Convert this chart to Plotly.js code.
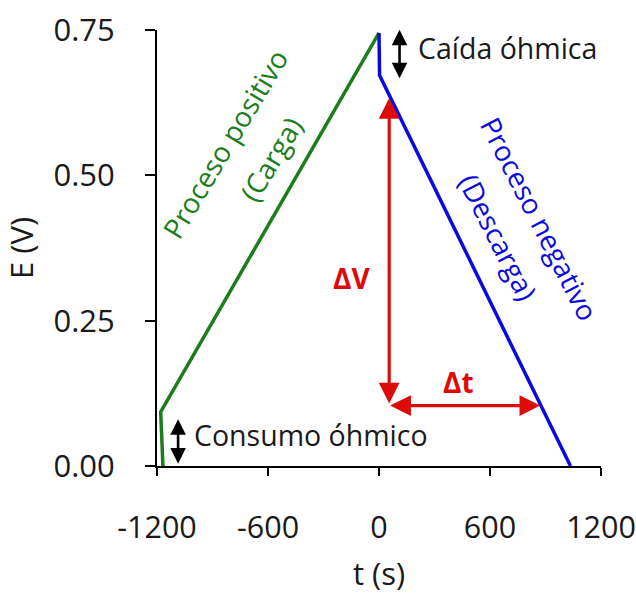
<!DOCTYPE html>
<html>
<head>
<meta charset="utf-8">
<script src="https://cdn.plot.ly/plotly-3.0.1.min.js"></script>
<style>html,body{margin:0;padding:0;background:#fff;}#chart{width:636px;height:594px;}</style>
</head>
<body>
<div id="chart"></div>
<script>
// Charge (positive process) curve
const chargeT = [-1168, -1180, 0];
const chargeE = [0, 0.093, 0.745];
// Discharge (negative process) curve
const dischargeT = [0, 3, 1035];
const dischargeE = [0.745, 0.672, 0];
// Axis ticks
const xTickVals = [-1200, -600, 0, 600, 1200];
const xTickText = ['-1200', '-600', '0', '600', '1200'];
const yTickVals = [0, 0.25, 0.5, 0.75];
const yTickText = ['0.00', '0.25', '0.50', '0.75'];
// Marker arrows
const deltaVArrow = {t: 55, e0: 0.105, e1: 0.633};
const deltaTArrow = {t0: 52, t1: 872, e: 0.104};
const dropArrow = {t: 111, e0: 0.753, e1: 0.667};
const consumeArrow = {t: -1086, e0: 0.083, e1: 0.004};

const FONT = '"Open Sans", "DejaVu Sans", sans-serif';
const GREEN = '#1b7d1b', BLUE = '#0a0ae0', RED = '#dd0a0a', INK = '#1a1a1a';

const traces = [
  {x: chargeT, y: chargeE, mode: 'lines', line: {color: GREEN, width: 3.5}, name: 'Carga', hoverinfo: 'skip'},
  {x: dischargeT, y: dischargeE, mode: 'lines', line: {color: BLUE, width: 3.5}, name: 'Descarga', hoverinfo: 'skip'}
];

function arrow(x, y, ax, ay, color, w, s) {
  return {x: x, y: y, ax: ax, ay: ay, xref: 'x', yref: 'y', axref: 'x', ayref: 'y',
    text: '', showarrow: true, arrowside: 'end+start', arrowhead: 2, arrowsize: s,
    arrowwidth: w, arrowcolor: color, standoff: 0, startstandoff: 0};
}

const annotations = [
  arrow(deltaVArrow.t, deltaVArrow.e1, deltaVArrow.t, deltaVArrow.e0, RED, 3.2, 1.3),
  arrow(deltaTArrow.t1, deltaTArrow.e, deltaTArrow.t0, deltaTArrow.e, RED, 3.2, 1.3),
  arrow(dropArrow.t, dropArrow.e1, dropArrow.t, dropArrow.e0, '#000', 2.6, 1.2),
  arrow(consumeArrow.t, consumeArrow.e1, consumeArrow.t, consumeArrow.e0, '#000', 2.6, 1.2),
  {x: 200, y: 0.719, xref: 'x', yref: 'y', text: 'Caída óhmica', showarrow: false,
   xanchor: 'left', yanchor: 'middle', font: {family: FONT, size: 28.5, color: INK}},
  {x: -1010, y: 0.0525, xref: 'x', yref: 'y', text: 'Consumo óhmico', showarrow: false,
   xanchor: 'left', yanchor: 'middle', font: {family: FONT, size: 28.5, color: INK}},
  {x: -830, y: 0.555, xref: 'x', yref: 'y', text: 'Proceso positivo', showarrow: false, textangle: -59,
   xanchor: 'center', yanchor: 'middle', font: {family: FONT, size: 28, color: GREEN}},
  {x: -585, y: 0.528, xref: 'x', yref: 'y', text: '(Carga)', showarrow: false, textangle: -59,
   xanchor: 'center', yanchor: 'middle', font: {family: FONT, size: 28, color: GREEN}},
  {x: 870, y: 0.425, xref: 'x', yref: 'y', text: 'Proceso negativo', showarrow: false, textangle: 63,
   xanchor: 'center', yanchor: 'middle', font: {family: FONT, size: 28, color: BLUE}},
  {x: 645, y: 0.394, xref: 'x', yref: 'y', text: '(Descarga)', showarrow: false, textangle: 63,
   xanchor: 'center', yanchor: 'middle', font: {family: FONT, size: 28, color: BLUE}},
  {x: -150, y: 0.323, xref: 'x', yref: 'y', text: '<b>ΔV</b>', showarrow: false,
   xanchor: 'center', yanchor: 'middle', font: {family: FONT, size: 28, color: RED}},
  {x: 430, y: 0.145, xref: 'x', yref: 'y', text: '<b>Δt</b>', showarrow: false,
   xanchor: 'center', yanchor: 'middle', font: {family: FONT, size: 28, color: RED}}
];

const layout = {
  width: 636, height: 594,
  margin: {l: 157, r: 35, t: 30, b: 128},
  paper_bgcolor: '#fff', plot_bgcolor: '#fff',
  showlegend: false,
  font: {family: FONT, color: INK},
  xaxis: {
    range: [-1200, 1200], tickvals: xTickVals, ticktext: xTickText,
    showline: true, linecolor: '#000', linewidth: 2, zeroline: false, showgrid: false,
    ticks: 'outside', ticklen: 8, tickwidth: 2, tickcolor: '#000',
    tickfont: {family: FONT, size: 30.5, color: INK}, ticklabelstandoff: 25,
    ticklabeloverflow: 'allow',
    title: {text: 't (s)', font: {family: FONT, size: 31, color: INK}, standoff: 18}
  },
  yaxis: {
    range: [0, 0.75], tickvals: yTickVals, ticktext: yTickText,
    showline: true, linecolor: '#000', linewidth: 2, zeroline: false, showgrid: false,
    ticks: 'outside', ticklen: 10, tickwidth: 2, tickcolor: '#000',
    tickfont: {family: FONT, size: 31, color: INK}, ticklabelstandoff: 24,
    ticklabeloverflow: 'allow',
    title: {text: 'E (V)', font: {family: FONT, size: 31, color: INK}, standoff: 18}
  },
  annotations: annotations
};

Plotly.newPlot('chart', traces, layout, {displayModeBar: false, staticPlot: true});
</script>
</body>
</html>
